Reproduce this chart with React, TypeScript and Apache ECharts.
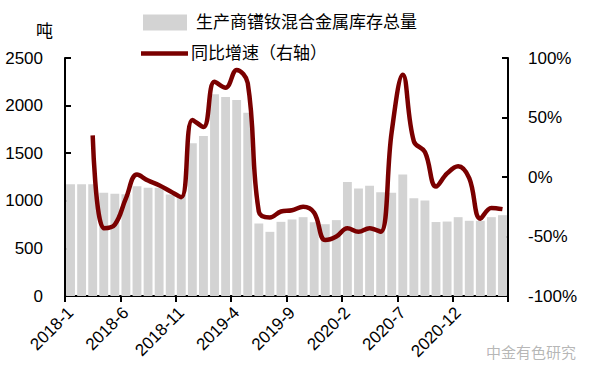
import React, { useEffect, useRef } from "react";
import * as echarts from "echarts";

const categories = [
  "2018-1", "2018-2", "2018-3", "2018-4", "2018-5", "2018-6", "2018-7", "2018-8", "2018-9", "2018-10", "2018-11", "2018-12",
  "2019-1", "2019-2", "2019-3", "2019-4", "2019-5", "2019-6", "2019-7", "2019-8", "2019-9", "2019-10", "2019-11", "2019-12",
  "2020-1", "2020-2", "2020-3", "2020-4", "2020-5", "2020-6", "2020-7", "2020-8", "2020-9", "2020-10", "2020-11", "2020-12",
  "2021-1", "2021-2", "2021-3", "2021-4",
];

const inventory = [
  1175, 1175, 1175, 1084, 1074, 1070, 1154, 1137, 1137, 1067, 1060, 1604,
  1681, 2119, 2091, 2060, 1926, 761, 674, 779, 804, 828, 775, 754,
  797, 1197, 1130, 1158, 1091, 1084, 1277, 1028, 1004, 777, 782, 828,
  790, 790, 828, 849,
];

const yoy = [
  null, null, 35, -43, -40, -18, 2, -3, -7, -12, -17, 48,
  42, 80, 75, 90, 79, -29, -34, -29, -28, -25, -30, -53,
  -50, -43, -46, -43, -46, 38, 86, 30, 21, -8, 3, 9,
  -1, -35, -26, -27,
];

const barName = "生产商镨钕混合金属库存总量";
const lineName = "同比增速（右轴）";
const leftTicks = { min: 0, max: 2500, interval: 500 };
const rightTicks = { min: -100, max: 100, interval: 50 };

const FONT = "'Liberation Sans', 'Noto Sans CJK SC', sans-serif";
const LINE_COLOR = "#7A0000";

export default function App() {
  const ref = useRef<HTMLDivElement>(null);
  useEffect(() => {
    if (!ref.current) return;
    const chart = echarts.init(ref.current, null, { renderer: "svg" });
    const axisLine = { show: true, lineStyle: { color: "#000", width: 2 } };
    chart.setOption({
      animation: false,
      textStyle: { fontFamily: FONT },
      grid: { left: 65, right: 92, top: 58, bottom: 87, containLabel: false },
      legend: [
        {
          data: [{ name: barName, icon: "rect" }],
          orient: "vertical",
          left: 143,
          top: 14,
          itemWidth: 44,
          itemHeight: 16,
          padding: 0,
          textStyle: { fontSize: 17, color: "#000", fontFamily: FONT, padding: [0, 0, 0, 4] },
        },
        {
          data: [{ name: lineName, icon: "rect", itemStyle: { color: LINE_COLOR } }],
          orient: "vertical",
          left: 141,
          top: 45,
          itemWidth: 47,
          itemHeight: 4.5,
          padding: 0,
          textStyle: { fontSize: 17, color: "#000", fontFamily: FONT, padding: [0, 0, 0, -2] },
        },
      ],
      graphic: [
        {
          type: "text",
          left: 36,
          top: 23,
          style: { text: "吨", fontSize: 17, fill: "#000", fontFamily: FONT },
        },
        {
          type: "text",
          left: 486,
          top: 345,
          style: { text: "中金有色研究", fontSize: 15, fill: "rgba(120,120,120,0.55)", fontFamily: FONT },
        },
      ],
      xAxis: {
        type: "category",
        data: categories,
        boundaryGap: true,
        axisLine,
        axisTick: { show: true, interval: 4, length: 6, lineStyle: { color: "#000", width: 2 } },
        axisLabel: {
          interval: 4,
          rotate: 45,
          fontSize: 17,
          color: "#000",
          margin: 14,
          fontFamily: FONT,
        },
        splitLine: { show: false },
      },
      yAxis: [
        {
          type: "value",
          ...leftTicks,
          axisLine,
          axisTick: { show: true, inside: true, length: 6, lineStyle: { color: "#000", width: 2 } },
          axisLabel: { fontSize: 17, color: "#000", margin: 22, fontFamily: FONT, formatter: (v: number) => String(v) },
          splitLine: { show: false },
        },
        {
          type: "value",
          ...rightTicks,
          position: "right",
          axisLine,
          axisTick: { show: true, inside: true, length: 6, lineStyle: { color: "#000", width: 2 } },
          axisLabel: { fontSize: 17, color: "#000", margin: 20, fontFamily: FONT, formatter: (v: number) => `${v}%` },
          splitLine: { show: false },
        },
      ],
      series: [
        {
          name: barName,
          type: "bar",
          data: inventory,
          yAxisIndex: 0,
          barCategoryGap: "20%",
          itemStyle: { color: "#D3D3D3" },
        },
        {
          name: lineName,
          type: "line",
          data: yoy,
          yAxisIndex: 1,
          smooth: 0.4,
          symbol: "none",
          showSymbol: false,
          connectNulls: false,
          lineStyle: { color: LINE_COLOR, width: 4.5 },
          itemStyle: { color: LINE_COLOR },
        },
      ],
    });
    return () => chart.dispose();
  }, []);
  return <div ref={ref} style={{ position: "absolute", left: 0, top: 0, width: 600, height: 383 }} />;
}
